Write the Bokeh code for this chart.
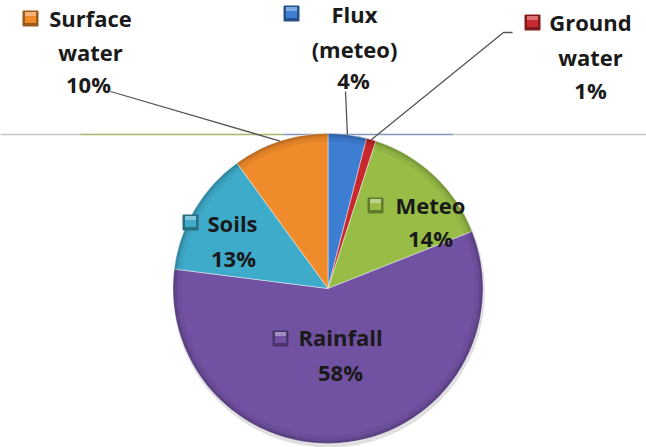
import numpy as np
from bokeh.plotting import figure
from bokeh.models import Range1d, ColumnDataSource
from bokeh.core.properties import value
from bokeh.embed import file_html
from bokeh.resources import INLINE

# ---- data ----
categories = ["Flux (meteo)", "Ground water", "Meteo", "Rainfall", "Soils", "Surface water"]
shares = [4, 1, 14, 58, 13, 10]
colors = ["#3D7DD2", "#C8292E", "#97BD47", "#7152A2", "#3FABCB", "#EF8B2B"]
label_lines = [["Flux", "(meteo)"], ["Ground", "water"], ["Meteo"], ["Rainfall"], ["Soils"], ["Surface", "water"]]

# ---- layout (pixel coords, origin top-left) ----
W, H = 646, 447
CX, CY, R = 327.5, 288.0, 155.0
label_layout = {
    "Flux (meteo)": dict(x=354, ys=[13, 48], px=353, py=79, mk=(291, 13)),
    "Ground water": dict(x=590, ys=[21, 56], px=590, py=89, mk=(532, 22)),
    "Meteo": dict(x=430, ys=[204], px=430, py=237, mk=(375, 205)),
    "Rainfall": dict(x=340, ys=[336], px=340, py=371, mk=(280, 338)),
    "Soils": dict(x=232, ys=[222], px=233, py=257, mk=(190, 222)),
    "Surface water": dict(x=90, ys=[17, 51], px=88, py=83, mk=(30, 18)),
}
leader_start = {
    "Surface water": [(110, 91)],
    "Flux (meteo)": [(345, 91)],
    "Ground water": [(512, 32), (503, 32)],
}

def fy(y):
    return H - y

def shade(c, f):
    c = c.lstrip("#")
    rgb = [int(c[k:k + 2], 16) for k in (0, 2, 4)]
    if f < 0:
        rgb = [int(v * (1 + f)) for v in rgb]
    else:
        rgb = [int(v + (255 - v) * f) for v in rgb]
    return "#%02x%02x%02x" % tuple(rgb)

p = figure(width=W, height=H, x_range=Range1d(0, W), y_range=Range1d(0, H),
           output_backend="svg", toolbar_location=None, min_border=0)
p.axis.visible = False
p.grid.visible = False
p.outline_line_color = None
p.background_fill_color = "white"

# horizontal artifact line
seg_x0 = [0, 80, 283, 453]
seg_x1 = [80, 283, 453, W]
seg_c = ["#c8c8c8", "#aab46c", "#8597b8", "#c8c8c8"]
p.segment(x0=seg_x0, y0=[fy(134)] * 4, x1=seg_x1, y1=[fy(134)] * 4, line_color=seg_c, line_width=1.5)

# wedges
total = float(sum(shares))
fr = np.array(shares) / total
cum = np.concatenate([[0], np.cumsum(fr)])
start = np.pi / 2 - 2 * np.pi * cum[:-1]
end = np.pi / 2 - 2 * np.pi * cum[1:]
mid = (start + end) / 2

src = ColumnDataSource(dict(cat=categories, start=start, end=end, color=colors))

# shadow
p.circle(x=[CX + 1], y=[fy(CY + 3)], radius=R + 1, fill_color="#000000", fill_alpha=0.12, line_color=None)
p.wedge(x=CX, y=fy(CY), radius=R, start_angle="start", end_angle="end", direction="clock",
        fill_color="color", line_color="#ffffff", line_alpha=0.45, line_width=1, source=src)
# rim shading
for r0, a in [(R - 8, 0.05), (R - 4, 0.07), (R - 2, 0.10)]:
    p.annulus(x=[CX], y=[fy(CY)], inner_radius=r0, outer_radius=R, fill_color="#000000",
              fill_alpha=a, line_color=None)

# leader lines
for cat, pts in leader_start.items():
    i = categories.index(cat)
    ex = CX + R * np.cos(mid[i])
    ey = fy(CY) + R * np.sin(mid[i])
    xs = [q[0] for q in pts] + [ex]
    ys = [fy(q[1]) for q in pts] + [ey]
    p.line(xs, ys, line_color="#555555", line_width=1.3)

# labels
font = value("Open Sans")
tx, ty, tt = [], [], []
mx, my, mc, mcl, mcd = [], [], [], [], []
for i, cat in enumerate(categories):
    lay = label_layout[cat]
    for line, y in zip(label_lines[i], lay["ys"]):
        tx.append(lay["x"]); ty.append(fy(y)); tt.append(line)
    tx.append(lay["px"]); ty.append(fy(lay["py"])); tt.append(f"{shares[i]:.0f}%")
    mx.append(lay["mk"][0]); my.append(fy(lay["mk"][1]))
    mc.append(colors[i]); mcl.append(shade(colors[i], 0.35)); mcd.append(shade(colors[i], -0.35))

p.text(x=tx, y=ty, text=tt, text_font=font, text_font_style="bold", text_font_size="22px",
       text_color="#1a1a1a", text_align="center", text_baseline="middle")
p.rect(x=mx, y=my, width=15, height=15, fill_color=mcd, line_color=mcd, line_width=1)
p.rect(x=mx, y=[v + 1 for v in my], width=11, height=11, fill_color=mcl, line_color=None)
p.rect(x=mx, y=[v - 1 for v in my], width=11, height=7, fill_color=mc, line_color=None)

open("out.html", "w").write(file_html(p, INLINE))
